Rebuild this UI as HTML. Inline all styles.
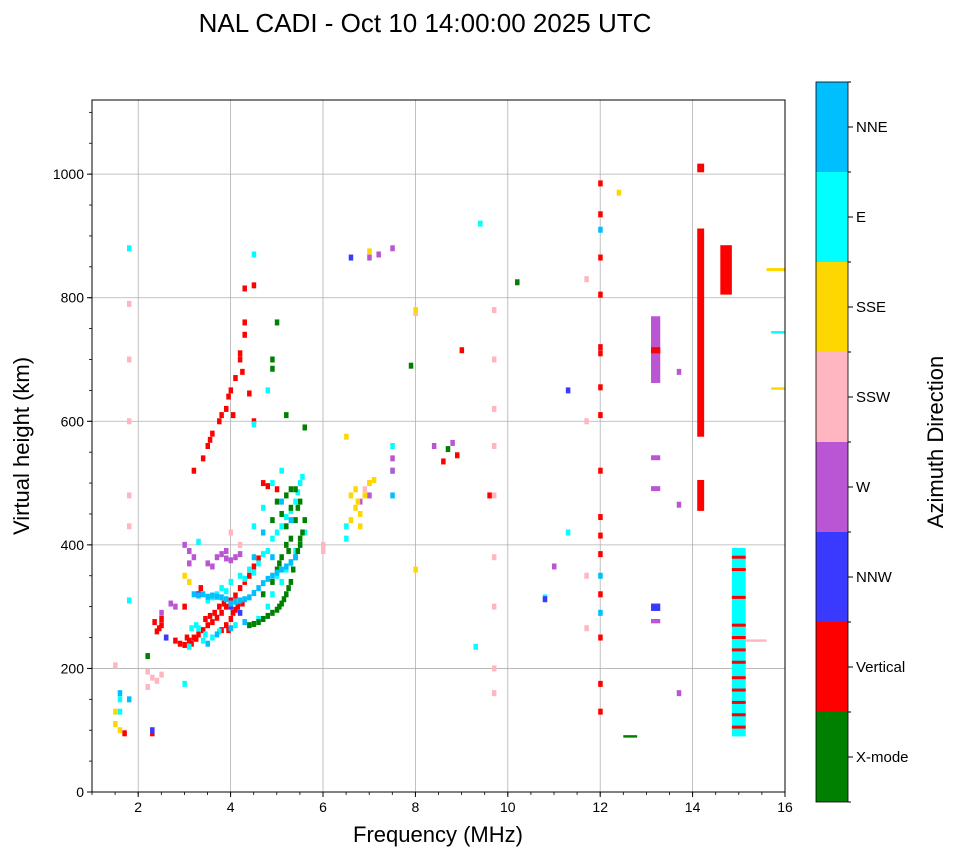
<!DOCTYPE html>
<html><head><meta charset="utf-8">
<style>
body{margin:0;background:#fff;font-family:"Liberation Sans","DejaVu Sans",sans-serif;}
svg text{font-family:"Liberation Sans","DejaVu Sans",sans-serif;}
</style></head>
<body>
<svg id="chart" width="958" height="857" xmlns="http://www.w3.org/2000/svg">
<text x="425" y="32" font-size="26" text-anchor="middle">NAL CADI - Oct 10 14:00:00 2025 UTC</text>
<g id="grid"></g>
<g id="marks"></g>
<rect x="92" y="100" width="693" height="692" fill="none" stroke="#000" stroke-width="1"/>
<g id="axes"></g>
<text x="438" y="842" font-size="22" text-anchor="middle">Frequency (MHz)</text>
<text x="0" y="0" font-size="22" text-anchor="middle" transform="translate(29,446) rotate(-90)">Virtual height (km)</text>
<g id="cbar"></g>
<text x="0" y="0" font-size="22" text-anchor="middle" transform="translate(943,442) rotate(-90)">Azimuth Direction</text>
</svg>
<script>
const directions=["X-mode","Vertical","NNW","W","SSW","SSE","E","NNE"];
const dirColors=["#008000","#ff0000","#3a3aff","#ba55d3","#ffb6c1","#ffd700","#00ffff","#00bfff"];
const xTicks=[2,4,6,8,10,12,14,16];
const yTicks=[0,200,400,600,800,1000];
// point echoes: [freq MHz, height km]
const redPts=[[2.4,260],[2.5,270],[2.5,280],[2.6,250],[2.8,245],[2.9,240],[3.0,238],[3.1,245],[3.2,250],[3.3,255],[3.4,262],[3.5,270],[3.6,275],[3.7,282],[3.8,290],[3.9,300],[4.0,310],[4.1,318],[4.2,330],[4.3,340],[4.4,350],[4.5,365],[4.6,378],[3.8,262],[3.9,270],[4.0,280],[4.1,295],[3.2,520],[3.4,540],[3.5,560],[3.6,580],[3.8,610],[3.9,620],[4.0,650],[4.1,670],[4.2,700],[4.3,740],[4.3,760],[4.4,645],[4.5,600],[4.7,500],[4.8,495],[5.0,490],[4.5,820],[4.3,815],[3.0,300],[3.3,320],[1.7,95],[2.3,95],[2.45,265],[3.05,250],[3.15,240],[3.25,248],[3.45,280],[3.55,285],[3.65,290],[3.75,300],[3.85,305],[3.95,262],[4.05,290],[4.15,300],[4.25,305],[3.95,640],[4.05,610],[3.75,600],[3.55,570],[2.35,275],[4.2,710],[4.25,680],[3.35,330]];
const cyanPts=[[3.3,265],[3.5,310],[3.6,315],[3.7,320],[3.8,330],[3.9,325],[4.0,340],[4.2,350],[4.4,360],[4.6,370],[4.8,390],[5.0,420],[5.2,445],[5.4,470],[5.5,500],[4.5,430],[4.7,460],[4.9,500],[5.1,520],[3.1,235],[3.4,245],[3.6,250],[4.6,280],[4.8,300],[4.9,320],[5.1,340],[5.3,370],[5.5,400],[4.5,870],[4.8,650],[4.5,595],[3.0,175],[1.6,150],[1.6,130],[1.8,310],[6.5,430],[6.5,410],[7.5,520],[7.5,560],[9.4,920],[10.8,315],[11.3,420],[9.3,235],[1.8,880],[3.15,265],[3.25,270],[3.45,255],[3.75,260],[4.1,270],[4.3,345],[4.5,355],[4.7,385],[4.9,410],[5.1,430],[5.3,455],[5.45,485],[5.55,510],[5.0,350],[5.2,360],[5.4,390],[5.6,420],[3.3,405]];
const greenPts=[[4.4,270],[4.6,275],[4.8,285],[5.0,295],[5.1,305],[5.2,320],[5.3,340],[5.35,360],[5.4,380],[5.5,400],[5.55,420],[5.6,440],[4.7,320],[4.9,340],[5.0,360],[5.1,380],[5.2,400],[5.2,430],[5.3,460],[5.2,480],[5.4,490],[5.0,470],[4.9,440],[5.5,470],[5.0,760],[4.9,700],[4.9,685],[5.2,610],[5.6,590],[7.9,690],[8.7,555],[10.2,825],[2.2,220],[4.5,272],[4.7,280],[4.9,290],[5.05,300],[5.15,312],[5.25,330],[5.45,390],[5.5,410],[5.3,410],[5.4,440],[5.1,450],[5.3,490],[5.45,460],[5.25,390],[5.05,370]];
const wPts=[[3.0,400],[3.1,390],[3.1,370],[3.2,380],[3.5,370],[3.7,380],[3.8,385],[3.9,378],[4.0,375],[4.1,380],[2.7,305],[2.8,300],[6.8,470],[7.0,480],[7.5,540],[7.5,520],[7.0,865],[7.2,870],[8.4,560],[8.8,565],[11.0,365],[13.7,680],[13.7,465],[13.7,160],[7.5,880],[3.6,365],[3.9,390],[4.2,385],[2.5,290]];
const pinkPts=[[1.5,205],[2.2,195],[2.3,185],[2.4,180],[2.5,190],[2.2,170],[6.0,390],[6.0,400],[6.9,490],[7.0,500],[4.0,420],[4.2,400],[8.0,775],[9.7,780],[9.7,700],[9.7,620],[9.7,560],[9.7,480],[9.7,380],[9.7,300],[9.7,200],[9.7,160],[11.7,830],[11.7,600],[11.7,350],[11.7,265],[1.8,790],[1.8,700],[1.8,600],[1.8,480],[1.8,430]];
const yellowPts=[[1.5,130],[1.5,110],[1.6,100],[3.0,350],[3.1,340],[6.6,480],[6.7,460],[6.8,450],[6.9,480],[7.0,500],[7.1,505],[6.6,440],[6.8,430],[6.5,575],[8.0,780],[8.0,360],[12.4,970],[7.0,875],[6.7,490],[6.75,470]];
const nnwPts=[[2.3,100],[6.6,865],[10.8,312],[11.3,650],[3.3,320],[4.0,300],[4.2,290],[2.6,250]];
const nnePts=[[3.2,320],[3.4,320],[3.6,318],[3.8,315],[4.0,305],[4.2,310],[4.4,315],[4.6,330],[4.8,345],[5.0,355],[5.2,365],[5.4,380],[3.5,240],[3.7,255],[4.0,265],[4.3,275],[4.5,380],[4.7,420],[4.9,380],[5.1,470],[5.3,440],[1.6,160],[1.8,150],[12.0,910],[12.0,350],[12.0,290],[7.5,480],[3.3,318],[3.5,316],[3.7,316],[3.9,312],[4.1,308],[4.3,312],[4.5,322],[4.7,338],[4.9,350],[5.1,360],[5.3,372]];
const vertCol=[[12.0,985],[12.0,935],[12.0,865],[12.0,805],[12.0,720],[12.0,710],[12.0,655],[12.0,610],[12.0,520],[12.0,445],[12.0,415],[12.0,385],[12.0,320],[12.0,250],[12.0,175],[12.0,130],[9.0,715],[9.6,480],[8.6,535],[8.9,545]];
// bar echoes: [freq start, freq end, h low, h high, direction index]
const barEchoes=[[14.1,14.25,1003,1017,1],[14.1,14.25,575,912,1],[14.1,14.25,455,505,1],[13.1,13.3,662,770,3],[13.1,13.3,537,545,3],[13.1,13.3,487,495,3],[13.1,13.3,293,305,2],[13.1,13.3,273,280,3],[14.6,14.85,805,885,1],[14.85,15.15,90,395,6],[15.15,15.6,243,247,4],[15.6,16.0,843,848,5],[15.7,16.0,742,746,6],[15.7,16.0,651,655,5],[12.5,12.8,88,92,0],[13.1,13.3,710,720,1]];
const stripeH=[380,360,315,270,250,230,210,185,165,145,125,105];

const X0=92,X1=785,Y0=792,Y1=100;
function xs(f){return X0+(f-1)/(16-1)*(X1-X0);}
function ys(h){return Y0-h/1120*(Y0-Y1);}
const NS="http://www.w3.org/2000/svg";
function mk(tag,attrs,parent){const e=document.createElementNS(NS,tag);for(const k in attrs)e.setAttribute(k,attrs[k]);parent.appendChild(e);return e;}
const grid=document.getElementById('grid'),axes=document.getElementById('axes'),marks=document.getElementById('marks'),cbar=document.getElementById('cbar');
xTicks.forEach(t=>{const x=xs(t);
 const g=mk('line',{x1:x,x2:x,y1:Y1,y2:Y0,stroke:'#b0b0b0','stroke-width':0.8},grid);
 
 mk('line',{x1:x,x2:x,y1:Y0,y2:Y0+5,stroke:'#000'},axes);
 const tx=mk('text',{x:x,y:Y0+20,'font-size':14,'text-anchor':'middle'},axes);tx.textContent=t;
 });
for(let f=1;f<=16;f+=0.5){mk('line',{x1:xs(f),x2:xs(f),y1:Y0,y2:Y0+3,stroke:'#000','stroke-width':0.8},axes);}
yTicks.forEach(t=>{const y=ys(t);
 const g=mk('line',{x1:X0,x2:X1,y1:y,y2:y,stroke:'#b0b0b0','stroke-width':0.8},grid);
 
 mk('line',{x1:X0-5,x2:X0,y1:y,y2:y,stroke:'#000'},axes);
 const tx=mk('text',{x:X0-8,y:y+5,'font-size':14,'text-anchor':'end'},axes);tx.textContent=t;
 });
for(let h=0;h<=1100;h+=50){mk('line',{x1:X0-3,x2:X0,y1:ys(h),y2:ys(h),stroke:'#000','stroke-width':0.8},axes);}

function drawPts(arr,ci){arr.forEach(p=>{
 const r=mk('rect',{x:xs(p[0])-2,y:ys(p[1])-3,width:4.5,height:6,fill:dirColors[ci]},marks);
 });}
drawPts(redPts,1);drawPts(cyanPts,6);drawPts(greenPts,0);drawPts(wPts,3);drawPts(pinkPts,4);
drawPts(yellowPts,5);drawPts(nnwPts,2);drawPts(nnePts,7);drawPts(vertCol,1);
barEchoes.forEach(b=>{
 const r=mk('rect',{x:xs(b[0]),y:ys(b[3]),width:xs(b[1])-xs(b[0]),height:Math.max(2,ys(b[2])-ys(b[3])),fill:dirColors[b[4]]},marks);
 });
stripeH.forEach(h=>{
 const r=mk('rect',{x:xs(14.85),y:ys(h)-1.5,width:xs(15.15)-xs(14.85),height:3,fill:dirColors[1]},marks);
 });

const CB_X=816,CB_W=32,CB_T=82,CB_B=802,seg=(CB_B-CB_T)/directions.length;
directions.forEach((d,i)=>{const y0=CB_B-(i+1)*seg;
 const r=mk('rect',{x:CB_X,y:y0,width:CB_W,height:seg,fill:dirColors[i]},cbar);
 
 mk('line',{x1:CB_X+CB_W,x2:CB_X+CB_W+5,y1:y0+seg/2,y2:y0+seg/2,stroke:'#000'},cbar);
 const t=mk('text',{x:CB_X+CB_W+8,y:y0+seg/2+5,'font-size':15},cbar);t.textContent=d;
 });
for(let i=0;i<=directions.length;i++){mk('line',{x1:CB_X+CB_W,x2:CB_X+CB_W+3,y1:CB_T+i*seg,y2:CB_T+i*seg,stroke:'#000'},cbar);}
mk('rect',{x:CB_X,y:CB_T,width:CB_W,height:CB_B-CB_T,fill:'none',stroke:'#000','stroke-width':0.8},cbar);
</script>
</body></html>
